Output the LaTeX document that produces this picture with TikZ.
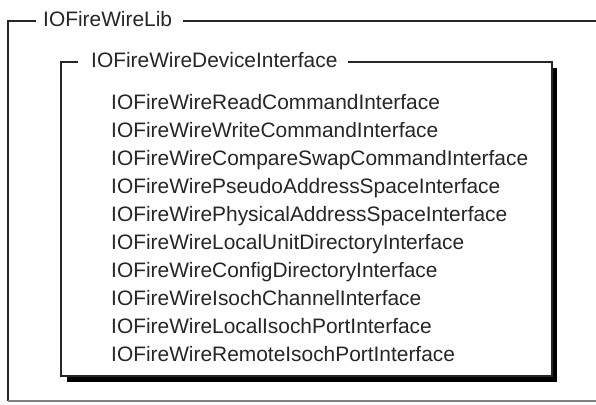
\documentclass[tikz,border=0pt]{standalone}
\usepackage{fontspec}
\setmainfont{Liberation Sans}
\begin{document}
\begin{tikzpicture}[x=1pt,y=-1pt,
  frameline/.style={line width=1.3pt,black!85},
  label/.style={anchor=base west,inner sep=0pt,font=\fontsize{20.9}{25}\selectfont,text=black!85}]
\useasboundingbox (0,0) rectangle (596,404);
\fill[white] (0,0) rectangle (596,404);

% outer group: IOFireWireLib
\node[label] (libtitle) at (43,26.5) {IOFireWireLib};
\draw[frameline] (36,21) -- (8,21) -- (8,401);
\draw[frameline] (183,21) -- (596,21);
\draw[line width=1.2pt,black!50] (8,401) -- (596,401);

% inner group: IOFireWireDeviceInterface with drop shadow
\fill[black] (67,68) rectangle (557,382);
\fill[white] (61,62) rectangle (552,376);
\draw[frameline] (78,62) -- (61,62) -- (61,376) -- (552,376) -- (552,62) -- (348,62);
\node[label] (devtitle) at (91,67) {IOFireWireDeviceInterface};

% interfaces
\foreach \name [count=\i from 0] in {%
  IOFireWireReadCommandInterface,
  IOFireWireWriteCommandInterface,
  IOFireWireCompareSwapCommandInterface,
  IOFireWirePseudoAddressSpaceInterface,
  IOFireWirePhysicalAddressSpaceInterface,
  IOFireWireLocalUnitDirectoryInterface,
  IOFireWireConfigDirectoryInterface,
  IOFireWireIsochChannelInterface,
  IOFireWireLocalIsochPortInterface,
  IOFireWireRemoteIsochPortInterface}
  \node[label] (item\i) at (111,109+28.1*\i) {\name};
\end{tikzpicture}
\end{document}
